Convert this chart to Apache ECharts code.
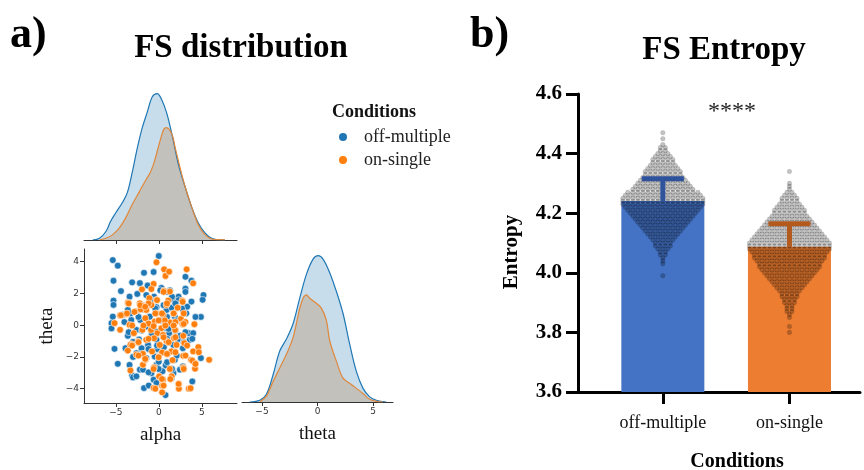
<!DOCTYPE html>
<html>
<head>
<meta charset="utf-8">
<script src="https://cdn.jsdelivr.net/npm/echarts@6/dist/echarts.min.js"></script>
<style>
html, body { margin: 0; padding: 0; background: #fff; }
#chart { width: 864px; height: 470px; }
</style>
</head>
<body>
<div id="chart"></div>
<script>
// ---- panel a: pairplot data ----
const conditions = ['off-multiple', 'on-single']

const offAlpha = [0.0, -5.35, -4.77, -5.27, -1.72, -0.6, -4.4, -3.1, -2.2, 3.1, 3.8, 3.1, 5.2, 5.1, -5.27, -5.27, 4.9, -5.5, -5.5, -5.15,
  -3.87, -4.77, -3.4, -3.1, -3.0, -2.2, -1.72, -1.17, -0.6, 0.78, 4.9, 3.9, 1.5, -0.27, -0.27, 0.8, 3.5, 3.6, 3.2, 2.85,
  1.7, 1.3, 0.3, 0.6, -0.55, -1.45, -2.5, -3.4, -3.6, -4.2, -2.6, -2.15, -1.05, -0.27, 0.9, 1.87, 2.5, 0.9, -0.27, -1.45,
  -2.6, -3.6, -3.0, -2.0, -1.25, -0.27, 0.6, 1.7, 2.8, -2.6, -1.45, -0.47, 1.87, 2.8, 1.7, 0.43, -0.86, -1.84, -2.6, 2.46,
  4.0, 3.3, 3.8, -3.2, -5.35, -1.0, 0.2, -0.8, 1.2, -1.9, 1.5, -0.2, 2.2, -3.0, 0.0, -1.3, 2.3, -4.0, 1.0, -2.3,
  3.1, 0.18, 0.96, 1.54, 2.3, -1.96, -0.8, -0.4, 0.56, 1.93, 2.7, -3.3, -2.36, 0.96, 2.1, 4.27,
  -2.36, -1.19, -0.2, 0.96, 2.5, 2.9, 3.9, 2.1, 0.96, -0.02, -1.19, -1.96, -3.5, -1.96, -0.8, 1.15, 1.93, 3.1, 1.54]
const offTheta = [4.36, 4.1, 3.75, 2.8, 3.3, 3.35, 2.15, 2.7, 2.65, 3.05, 2.8, 2.3, 1.9, 1.6, 1.55, 1.28, 0.52, 0.13, -0.2, -1.49,
  -1.45, -2.43, -2.5, -3.16, -3.29, -2.8, -3.96, -3.8, -3.43, -4.4, -2.07, -3.54, -3.33, -3.64, -2.5, -2.53, -0.5, -0.92, 0.75, 0.9,
  1.6, 2.2, 2.35, 2.1, 1.8, 1.9, 1.97, 1.8, 0.96, 0.65, 0.86, 0.33, 0.54, 1.13, 0.96, 0.54, 0.29, -0.19, -0.4, -0.08,
  -0.3, -0.67, -1.05, -1.45, -1.24, -0.92, -1.38, -1.24, -1.45, -1.76, -2.07, -1.97, -2.18, -2.6, -3.02, -2.9, -3.02, -2.8, -3.22, -2.8,
  -0.5, 1.17, 1.49, 0.33, 0.54, 1.3, 0.3, -0.6, -0.5, 1.0, 1.1, -1.5, -0.9, -2.0, -2.3, 2.5, 1.8, 0.2, -1.8, -0.9,
  2.1, 2.2, 2.1, 1.79, 1.58, 1.26, 1.58, 1.05, 1.26, 1.37, 1.05, 0.74, 0.52, 0.52, 0.3, 0.52,
  -1.07, -1.5, -1.28, -0.86, -0.65, -1.07, -0.86, -1.91, -2.33, -2.76, -2.97, -1.81, -0.44, -0.34, -0.55, -0.23, -0.34, -0.44, -2.76]

const onAlpha = [-0.27, 0.62, 0.78, 1.2, 3.24, 4.0, -0.6, -0.86, -1.95, 0.59, 1.29, 2.73, -3.6, -2.2, -0.27, 1.1, -0.86, -1.84, -4.5, -3.8,
  -2.7, -1.45, -0.27, 0.5, 1.76, 2.58, -5.15, -3.4, -1.56, -0.47, 1.29, 2.77, 4.14, -4.5, -2.9, -1.9, -0.16, 0.5, 1.76, 2.85,
  -1.45, -2.4, -3.2, -0.55, 0.12, 1.1, 2.07, 2.97, 4.6, 4.0, 2.85, 1.48, 0.39, -0.78, -1.84, -2.6, -3.3, 5.86, 3.75, 4.2,
  4.22, 2.85, 1.29, -1.84, -1.56, -3.3, -0.55, 0.04, 0.5, -0.6, 0.39, 0.39, 2.34, 2.34, 3.5, 1.5, 0.3, 0.9, -1.1, 0.9,
  1.9, -2.1, 0.0, 1.6, -0.9, 2.2, -3.6, 0.7,
  -3.5, -2.16, -1.19, -0.2, 0.56, 0.96, 2.78, -4.4, -3.7, -2.83, -1.58, -0.4, 0.37, 1.73, 2.9, -1.19, -0.02, 1.93, 3.1,
  -3.1, -1.78, -0.6, 0.76, 1.73, 2.9, -3.1, -2.36, -1.19, 0.56, 1.15, 1.93, 3.3, 4.66, -2.36, -1.58, -0.02, 0.96, 1.93,
  3.1, 3.9, 4.27, -0.6, 0.37, 0.56, 1.35, 2.3, 3.7, -0.4, 2.9]
const onTheta = [3.96, 3.52, 3.1, 3.37, 3.52, 2.64, 2.6, 2.28, 2.26, 2.16, 2.12, 1.55, 1.42, 1.38, 1.59, 1.55, 1.28, 1.21, 0.61, 0.69,
  0.86, 0.96, 0.75, 0.65, 0.75, 0.4, 0.13, 0.02, 0.44, 0.23, 0.17, 0.06, 0.06, -0.29, -0.5, -0.29, -0.5, -0.61, -0.82, -0.67,
  -0.92, -1.03, -1.19, -0.82, -1.24, -1.09, -1.24, -1.13, -1.38, -1.65, -1.93, -1.65, -1.72, -1.65, -1.8, -1.86, -1.24, -2.18, -2.18, -2.39,
  -2.74, -2.68, -2.76, -2.49, -2.18, -2.85, -2.66, -3.22, -3.43, -3.96, -3.81, -4.23, -3.71, -4.0, -4.0, -3.22, -0.19, 1.28, 1.7, -1.0,
  -0.3, 1.0, -2.0, -2.2, -0.3, 1.1, -1.6, 0.3,
  1.37, 1.26, 1.37, 1.58, 2.1, 1.37, 1.47, 0.63, 0.74, 0.84, 1.16, 0.74, 0.74, 0.74, 0.74, 0.1, 0.3, 0.2, 0.2,
  -0.02, -0.02, -0.06, -0.02, -0.02, 0.08, -1.28, -1.07, -0.86, -0.76, -1.07, -0.76, -1.28, -1.7, -1.91, -2.12, -2.02, -1.81, -1.7,
  -1.91, -2.23, -2.44, -2.76, -3.39, -3.8, -3.39, -3.7, -3.97, -4.0, -2.76]

// kde curves: x positions and density (estimated from the drawn shapes)
const alphaOffX = [-7.7, -6.9, -6.15, -5.6, -5.0, -4.23, -3.65, -3.08, -2.5, -1.92, -1.35, -0.77, -0.19, 0.38, 0.96, 1.62, 2.3, 3.08, 3.85, 4.6, 5.4, 6.15, 6.9, 7.7]
const alphaOffD = [0, 0.001, 0.005, 0.011, 0.016, 0.022, 0.028, 0.040, 0.054, 0.066, 0.075, 0.084, 0.086, 0.082, 0.074, 0.060, 0.044, 0.031, 0.019, 0.010, 0.004, 0.001, 0.0002, 0]
const alphaOnX = [-6.9, -6.15, -5.4, -4.6, -3.85, -3.08, -2.3, -1.54, -0.96, -0.58, -0.19, 0.19, 0.58, 0.88, 1.54, 1.92, 2.5, 3.08, 3.85, 4.6, 5.4, 6.15, 6.9, 7.7]
const alphaOnD = [0, 0.001, 0.003, 0.007, 0.013, 0.021, 0.028, 0.035, 0.040, 0.045, 0.052, 0.059, 0.065, 0.066, 0.062, 0.054, 0.042, 0.031, 0.019, 0.009, 0.003, 0.0006, 0.0002, 0.0001]
const thetaOffX = [-6.1, -5.2, -4.6, -4.0, -3.4, -2.8, -2.2, -1.6, -1.0, -0.4, 0.06, 0.5, 1.1, 1.7, 2.3, 2.9, 3.5, 4.1, 4.7, 5.3, 6.2]
const thetaOffD = [0, 0.001, 0.0045, 0.016, 0.030, 0.037, 0.046, 0.061, 0.075, 0.084, 0.086, 0.084, 0.076, 0.065, 0.052, 0.034, 0.018, 0.008, 0.003, 0.001, 0]
const thetaOnX = [-5.2, -4.6, -4.0, -3.4, -2.8, -2.2, -1.6, -1.3, -1.0, -0.7, -0.1, 0.36, 0.8, 1.1, 1.7, 2.3, 2.9, 3.5, 4.1, 4.7, 5.3, 5.9]
const thetaOnD = [0.0002, 0.0035, 0.012, 0.020, 0.028, 0.038, 0.055, 0.061, 0.063, 0.061, 0.058, 0.055, 0.048, 0.036, 0.024, 0.014, 0.011, 0.008, 0.005, 0.0016, 0.0004, 0]

const pairTicks = [-5, 0, 5]
const thetaTicks = [-4, -2, 0, 2, 4]

// ---- panel b: entropy ----
const entropyCats = ['off-multiple', 'on-single']
const entropyMean = [4.241, 4.087]
const entropySD = [0.075, 0.078]
// swarm: entropy level -> number of dots at that level
const offLevels = [4.47, 4.46, 4.45, 4.44, 4.43, 4.42, 4.41, 4.40, 4.39, 4.38, 4.37, 4.36, 4.35, 4.34, 4.33, 4.32, 4.31, 4.30, 4.29, 4.28,
  4.27, 4.26, 4.25, 4.24, 4.23, 4.22, 4.21, 4.20, 4.19, 4.18, 4.17, 4.16, 4.15, 4.14, 4.13, 4.12, 4.11, 4.10, 4.09, 4.08,
  4.07, 4.06, 4.05, 4.04, 4.03, 4.02, 4.01, 4.00, 3.99]
const offCounts = [1, 0, 1, 0, 1, 2, 2, 3, 4, 5, 5, 6, 7, 8, 8, 9, 10, 11, 12, 13,
  15, 16, 17, 17, 17, 16, 15, 14, 13, 12, 11, 10, 9, 8, 7, 6, 5, 4, 4, 3,
  2, 2, 1, 1, 1, 0, 0, 0, 1]
const onLevels = [4.34, 4.33, 4.32, 4.31, 4.30, 4.29, 4.28, 4.27, 4.26, 4.25, 4.24, 4.23, 4.22, 4.21, 4.20, 4.19, 4.18, 4.17, 4.16, 4.15,
  4.14, 4.13, 4.12, 4.11, 4.10, 4.09, 4.08, 4.07, 4.06, 4.05, 4.04, 4.03, 4.02, 4.01, 4.00, 3.99, 3.98, 3.97, 3.96, 3.95,
  3.94, 3.93, 3.92, 3.91, 3.90, 3.89, 3.88, 3.87, 3.86, 3.85, 3.84, 3.83, 3.82, 3.81, 3.80]
const onCounts = [1, 0, 0, 0, 1, 1, 1, 2, 3, 4, 4, 5, 6, 7, 7, 8, 9, 10, 11, 12,
  13, 14, 15, 16, 17, 17, 17, 16, 15, 15, 14, 13, 13, 12, 11, 10, 9, 8, 7, 6,
  5, 4, 4, 3, 3, 2, 2, 2, 1, 1, 0, 0, 1, 0, 1]

const BLUE = '#1f77b4'
const ORANGE = '#ff7f0e'
const barColors = ['#4472c4', '#ed7d31']
const errColors = ['#2e529c', '#b35a1e']
const SERIF = '"Liberation Serif", "Times New Roman", serif'
const SANS = '"DejaVu Sans", sans-serif'
const minus = v => String(v).replace('-', '\u2212')

const zip = (xs, ys) => xs.map((x, i) => [x, ys[i]])

const chart = echarts.init(document.getElementById('chart'), null, { renderer: 'canvas' })

const pairAxis = (extra) => Object.assign({
  type: 'value',
  axisLine: { show: true, onZero: false, lineStyle: { color: '#333', width: 1 } },
  axisTick: { show: true, length: 4, lineStyle: { color: '#333' }, customValues: pairTicks },
  axisLabel: { show: true, color: '#333', fontFamily: SANS, fontSize: 9, margin: 5, customValues: pairTicks, formatter: minus },
  splitLine: { show: false }
}, extra)

const hiddenDens = (gridIndex) => ({ type: 'value', gridIndex, min: 0, max: 0.0905, show: false })

const kde = (name, xi, yi, xs, ys, line, fill) => ({
  name, type: 'line', xAxisIndex: xi, yAxisIndex: yi,
  data: zip(xs, ys), smooth: 0.35, symbol: 'none', silent: true,
  itemStyle: { color: line },
  lineStyle: { color: line, width: 1.2 },
  areaStyle: { color: fill, opacity: 1 }
})

const swarmData = (cat, levels, counts) => levels.map((l, i) => [cat, l, counts[i]])

function swarmItem (params, api) {
  const n = api.value(2)
  const c = api.coord([api.value(0), api.value(1)])
  const kids = []
  for (let i = 0; i < n; i++) {
    kids.push({
      type: 'circle',
      shape: { cx: c[0] + (i - (n - 1) / 2) * 5, cy: c[1], r: 2.3 },
      style: { fill: 'rgba(0,0,0,0.24)', stroke: 'rgba(0,0,0,0.18)', lineWidth: 0.5 }
    })
  }
  return { type: 'group', children: kids }
}

function errItem (params, api) {
  const x = api.value(0)
  const lo = api.coord([x, api.value(1)])
  const hi = api.coord([x, api.value(2)])
  const col = errColors[params.dataIndex]
  return {
    type: 'group',
    children: [
      { type: 'rect', shape: { x: lo[0] - 2.5, y: hi[1], width: 5, height: lo[1] - hi[1] }, style: { fill: col } },
      { type: 'rect', shape: { x: hi[0] - 21, y: hi[1] - 2.5, width: 42, height: 5 }, style: { fill: col } }
    ]
  }
}

chart.setOption({
  backgroundColor: '#fff',
  animation: false,
  graphic: [
    { type: 'text', left: 10, top: 14, style: { text: 'a)', font: 'bold 44px ' + SERIF, fill: '#000' } },
    { type: 'text', x: 241, y: 48, style: { text: 'FS distribution', font: 'bold 33px ' + SERIF, fill: '#000', align: 'center', verticalAlign: 'middle' } },
    { type: 'text', left: 470, top: 14, style: { text: 'b)', font: 'bold 44px ' + SERIF, fill: '#000' } },
    { type: 'text', x: 724, y: 50, style: { text: 'FS Entropy', font: 'bold 33px ' + SERIF, fill: '#000', align: 'center', verticalAlign: 'middle' } },
    { type: 'text', x: 732, y: 112, style: { text: '****', font: '24px ' + SERIF, fill: '#222', align: 'center', verticalAlign: 'middle' } },
    { type: 'text', x: 332, y: 112, style: { text: 'Conditions', font: 'bold 18px ' + SERIF, fill: '#111', verticalAlign: 'middle' } }
  ],
  legend: {
    data: conditions,
    orient: 'vertical',
    left: 334, top: 123,
    icon: 'circle', itemWidth: 8, itemHeight: 8, itemGap: 5,
    itemStyle: { borderWidth: 0 },
    textStyle: { fontFamily: SERIF, fontSize: 18, color: '#222', padding: [0, 0, 0, 12] }
  },
  grid: [
    { left: 84, top: 86, width: 153, height: 154, outerBoundsMode: 'none' },
    { left: 84, top: 249, width: 153, height: 154, outerBoundsMode: 'none' },
    { left: 242, top: 248, width: 151, height: 154, outerBoundsMode: 'none' },
    { left: 578, top: 94, width: 282, height: 298, outerBoundsMode: 'none' }
  ],
  xAxis: [
    pairAxis({ gridIndex: 0, min: -8.7, max: 9.1, axisLabel: { show: false } }),
    pairAxis({
      gridIndex: 1, min: -8.7, max: 9.1,
      name: 'alpha', nameLocation: 'middle', nameGap: 23,
      nameTextStyle: { fontFamily: SERIF, fontSize: 19, color: '#111' }
    }),
    pairAxis({
      gridIndex: 2, min: -6.8, max: 6.8,
      name: 'theta', nameLocation: 'middle', nameGap: 23,
      nameTextStyle: { fontFamily: SERIF, fontSize: 19, color: '#111' }
    }),
    {
      type: 'value', gridIndex: 3, min: -0.67, max: 1.557,
      name: 'Conditions', nameLocation: 'middle', nameGap: 60,
      nameTextStyle: { fontFamily: SERIF, fontSize: 20, fontWeight: 'bold', color: '#000', padding: [0, 0, 0, 36] },
      axisLine: { show: true, onZero: false, lineStyle: { color: '#000', width: 3 } },
      axisTick: { show: true, length: 12, lineStyle: { color: '#000', width: 3 }, customValues: [0, 1] },
      axisLabel: {
        show: true, margin: 22, color: '#111', fontFamily: SERIF, fontSize: 18,
        customValues: [0, 1], formatter: v => entropyCats[Math.round(v)]
      },
      splitLine: { show: false }
    }
  ],
  yAxis: [
    hiddenDens(0),
    pairAxis({
      gridIndex: 1, min: -4.9, max: 4.8,
      axisTick: { show: true, length: 4, lineStyle: { color: '#333' }, customValues: thetaTicks },
      axisLabel: { show: true, color: '#333', fontFamily: SANS, fontSize: 9, margin: 5, customValues: thetaTicks, formatter: minus },
      name: 'theta', nameLocation: 'middle', nameGap: 27, nameRotate: 90,
      nameTextStyle: { fontFamily: SERIF, fontSize: 19, color: '#111' }
    }),
    hiddenDens(2),
    {
      type: 'value', gridIndex: 3, min: 3.6, max: 4.6, interval: 0.2,
      name: 'Entropy', nameLocation: 'middle', nameGap: 56, nameRotate: 90,
      nameTextStyle: { fontFamily: SERIF, fontSize: 21, fontWeight: 'bold', color: '#000', padding: [0, 18, 0, 0] },
      axisLine: { show: true, onZero: false, lineStyle: { color: '#000', width: 3 } },
      axisTick: { show: true, length: 12, lineStyle: { color: '#000', width: 3 } },
      axisLabel: { show: true, margin: 16, color: '#000', fontFamily: SERIF, fontSize: 21, fontWeight: 'bold', formatter: v => v.toFixed(1) },
      splitLine: { show: false }
    }
  ],
  series: [
    {
      name: conditions[0], type: 'scatter', xAxisIndex: 1, yAxisIndex: 1,
      data: zip(offAlpha, offTheta), symbolSize: 6.8,
      itemStyle: { color: BLUE, borderColor: '#fff', borderWidth: 0.6, opacity: 1 }
    },
    {
      name: conditions[1], type: 'scatter', xAxisIndex: 1, yAxisIndex: 1,
      data: zip(onAlpha, onTheta), symbolSize: 6.8,
      itemStyle: { color: ORANGE, borderColor: '#fff', borderWidth: 0.6, opacity: 1 }
    },
    kde(conditions[0], 0, 0, alphaOffX, alphaOffD, BLUE, 'rgba(31,119,180,0.25)'),
    kde(conditions[1], 0, 0, alphaOnX, alphaOnD, '#e0873a', 'rgba(190,160,130,0.45)'),
    kde(conditions[0], 2, 2, thetaOffX, thetaOffD, BLUE, 'rgba(31,119,180,0.25)'),
    kde(conditions[1], 2, 2, thetaOnX, thetaOnD, '#e0873a', 'rgba(190,160,130,0.45)'),
    {
      name: 'Entropy', type: 'bar', xAxisIndex: 3, yAxisIndex: 3, barWidth: 83, z: 1,
      data: entropyMean.map((m, i) => ({ value: [i, m], itemStyle: { color: barColors[i] } }))
    },
    {
      name: 'swarm', type: 'custom', xAxisIndex: 3, yAxisIndex: 3, z: 2, silent: true,
      renderItem: swarmItem,
      data: swarmData(0, offLevels, offCounts).concat(swarmData(1, onLevels, onCounts))
    },
    {
      name: 'sd', type: 'custom', xAxisIndex: 3, yAxisIndex: 3, z: 3, silent: true,
      renderItem: errItem,
      data: entropyMean.map((m, i) => [i, m, m + entropySD[i]])
    }
  ]
})
</script>
</body>
</html>
